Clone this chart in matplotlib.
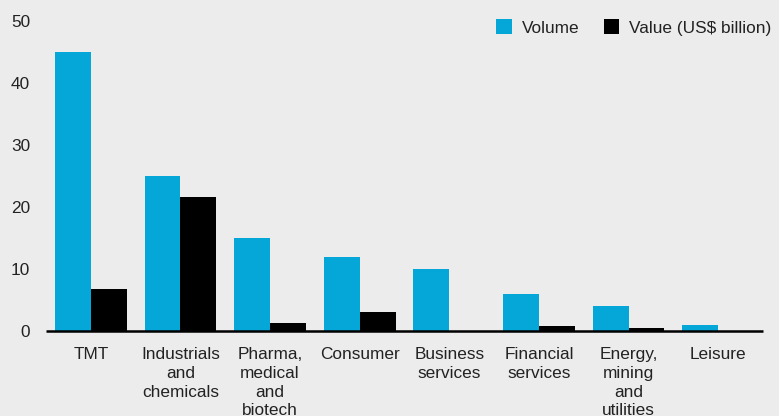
import matplotlib
matplotlib.use("Agg")
import matplotlib.pyplot as plt
import numpy as np

categories = ["TMT", "Industrials\nand\nchemicals", "Pharma,\nmedical\nand\nbiotech",
              "Consumer", "Business\nservices", "Financial\nservices",
              "Energy,\nmining\nand\nutilities", "Leisure"]
volume = [45, 25, 15, 12, 10, 6, 4, 1]
value_usd_bn = [6.8, 21.6, 1.3, 3.1, 0, 0.8, 0.5, 0]
yticks = [0, 10, 20, 30, 40, 50]

BG = "#ececec"
BLUE = "#05a6d8"
TEXT = "#222222"
FS = 12.4

plt.rcParams["font.family"] = ["Liberation Sans", "DejaVu Sans"]

fig = plt.figure(figsize=(7.79, 4.16), dpi=100, facecolor=BG)
ax = fig.add_axes([46 / 779, 1 - 331 / 416, (763 - 46) / 779, 310 / 416])
ax.set_facecolor(BG)

x = np.arange(len(categories))
w = 0.4
ax.bar(x - w / 2, volume, width=w, color=BLUE, label="Volume", zorder=2)
ax.bar(x + w / 2, value_usd_bn, width=w, color="black", label="Value (US$ billion)", zorder=2)

xmin, xmax = -0.5, len(categories) - 0.5
ax.set_xlim(xmin, xmax)
ax.set_ylim(0, 50)
ax.set_yticks(yticks)
ax.set_yticklabels([str(t) for t in yticks], fontsize=FS, color=TEXT)
ax.set_xticks(x)
ax.set_xticklabels(categories, fontsize=FS, color=TEXT, linespacing=1.32, va="top")
ax.tick_params(axis="y", length=0, pad=11.5)
ax.tick_params(axis="x", length=0, pad=11.5)

for s in ax.spines.values():
    s.set_visible(False)
# baseline drawn across the category range
ax.plot([xmin, xmax], [0, 0], color="black", lw=1.8, solid_capstyle="butt",
        clip_on=False, zorder=3)

leg = ax.legend(loc="upper right", bbox_to_anchor=(787 / 779, 1 - 4 / 416),
                bbox_transform=fig.transFigure, ncol=2, frameon=False,
                fontsize=FS, handlelength=0.92, handleheight=0.92,
                handletextpad=0.57, columnspacing=1.4)
for t in leg.get_texts():
    t.set_color(TEXT)

fig.savefig("out.png", dpi=100, facecolor=BG)
